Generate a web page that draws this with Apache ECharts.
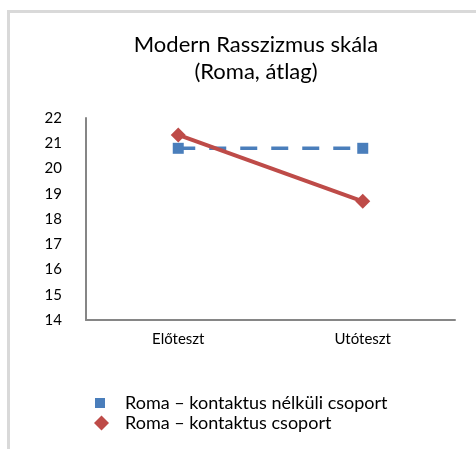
<!DOCTYPE html>
<html>
<head>
<meta charset="utf-8">
<script src="https://cdn.jsdelivr.net/npm/echarts@6/dist/echarts.min.js"></script>
<style>
  html, body { margin: 0; padding: 0; background: #fff; }
  #chart { width: 476px; height: 449px; }
</style>
</head>
<body>
<div id="chart"></div>
<script>
// mérési pontok
const categories = ['Előteszt', 'Utóteszt'];
const noContactName = 'Roma – kontaktus nélküli csoport';
const contactName = 'Roma – kontaktus csoport';
const noContact = [20.8, 20.8];
const contact = [21.33, 18.7];
const yTicks = { min: 14, max: 22, interval: 1 };

const font = 'Lato, "Open Sans", sans-serif';
const chart = echarts.init(document.getElementById('chart'));

const option = {
    backgroundColor: '#fff',
    animation: false,
    title: {
        text: 'Modern Rasszizmus skála\n(Roma, átlag)',
        left: 251,
        top: 26,
        textAlign: 'center',
        textStyle: { fontFamily: font, fontSize: 22, fontWeight: 'normal', color: '#000', lineHeight: 27 }
    },
    graphic: [{
        type: 'rect',
        shape: { x: 8.5, y: 11.5, width: 600, height: 600 },
        style: { fill: 'none', stroke: '#d9d9d9', lineWidth: 3 },
        silent: true
    }],
    legend: [{
        data: [noContactName],
        left: 90,
        top: 389,
        icon: 'rect',
        itemWidth: 10,
        itemHeight: 10,
        textStyle: { fontFamily: font, fontSize: 18, color: '#000', padding: [0, 0, 0, 15] }
    }, {
        data: [contactName],
        left: 89,
        top: 409,
        icon: 'diamond',
        itemWidth: 15,
        itemHeight: 15,
        textStyle: { fontFamily: font, fontSize: 18, color: '#000', padding: [0, 0, 0, 11] }
    }],
    grid: { left: 86, right: 21, top: 118, bottom: 129 },
    xAxis: {
        type: 'category',
        data: categories,
        boundaryGap: true,
        axisLine: { lineStyle: { color: '#868686', width: 2 } },
        axisTick: { show: false },
        axisLabel: { fontFamily: font, fontSize: 15, color: '#000', margin: 12 }
    },
    yAxis: {
        type: 'value',
        min: yTicks.min,
        max: yTicks.max,
        interval: yTicks.interval,
        axisLine: { show: true, lineStyle: { color: '#868686', width: 2 } },
        axisTick: { show: false },
        splitLine: { show: false },
        axisLabel: { fontFamily: font, fontSize: 15, color: '#000', margin: 24 }
    },
    series: [{
        name: noContactName,
        type: 'line',
        data: noContact,
        symbol: 'rect',
        symbolSize: 11,
        itemStyle: { color: '#4a7ebb' },
        lineStyle: { color: '#4a7ebb', width: 3.5, type: [17, 14] }
    }, {
        name: contactName,
        type: 'line',
        data: contact,
        symbol: 'diamond',
        symbolSize: 15,
        itemStyle: { color: '#be4b48' },
        lineStyle: { color: '#be4b48', width: 4 }
    }]
};

chart.setOption(option);
</script>
</body>
</html>
